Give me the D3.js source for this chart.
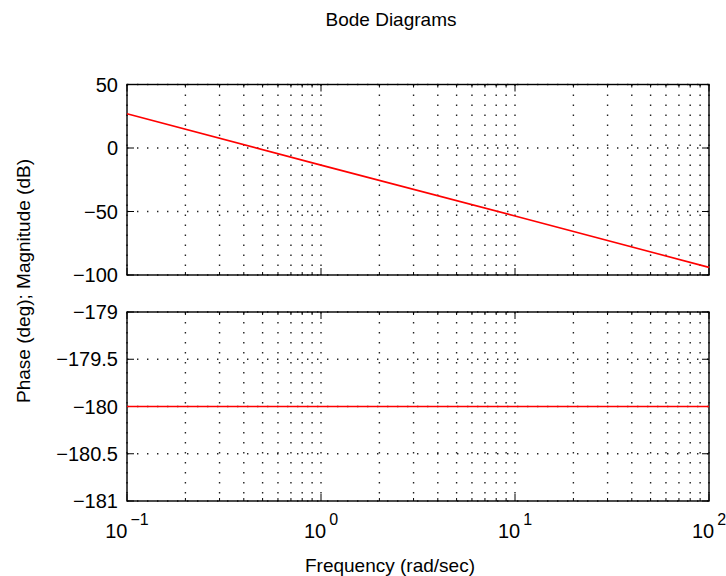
<!DOCTYPE html>
<html>
<head>
<meta charset="utf-8">
<script src="https://cdn.jsdelivr.net/npm/d3@7"></script>
<style>
  body { margin: 0; background: #fff; }
  svg text { font-family: "Liberation Sans", Arial, sans-serif; fill: #000; }
</style>
</head>
<body>
<div id="chart"></div>
<script>
// values
const freq = [0.1, 1, 10, 100]
const magDb = [27, -13.5, -53.5, -94]
const phaseDeg = [-180, -180, -180, -180]
const magTicks = [50, 0, -50, -100]
const phaseTicks = [-179, -179.5, -180, -180.5, -181]
const freqDecades = [-1, 0, 1, 2]

const width = 726
const height = 576
const left = 127, right = 709

const svg = d3.select("#chart").append("svg")
    .attr("width", width)
    .attr("height", height)

const x = d3.scaleLog().domain([0.1, 100]).range([left, right])

const panels = [
    { top: 84.5, bottom: 275, domain: [-100, 50], ticks: magTicks, values: magDb, fmt: d3.format("d") },
    { top: 312, bottom: 501, domain: [-181, -179], ticks: phaseTicks, values: phaseDeg, fmt: d => d3.format("")(d) }
]

panels.forEach((p, pi) => {
    const y = d3.scaleLinear().domain(p.domain).range([p.bottom, p.top])
    const g = svg.append("g")

    // vertical grid, every log tick
    g.selectAll(".vgrid")
        .data(x.ticks())
        .enter()
        .append("line")
        .attr("x1", d => x(d)).attr("x2", d => x(d))
        .attr("y1", p.top).attr("y2", p.bottom)
        .attr("stroke", "#222")
        .attr("stroke-width", 1.4)
        .attr("stroke-dasharray", "1.4 8.6")

    // horizontal grid at major ticks
    g.selectAll(".hgrid")
        .data(p.ticks)
        .enter()
        .append("line")
        .attr("x1", left).attr("x2", right)
        .attr("y1", d => y(d)).attr("y2", d => y(d))
        .attr("stroke", "#222")
        .attr("stroke-width", 1.4)
        .attr("stroke-dasharray", "1.4 8.6")

    // tick marks, inward on all four sides
    const majors = freqDecades.map(e => Math.pow(10, e))
    x.ticks().forEach(t => {
        const len = majors.some(m => Math.abs(m - t) < 1e-9) ? 7 : 3
        g.append("line").attr("x1", x(t)).attr("x2", x(t)).attr("y1", p.bottom).attr("y2", p.bottom - len).attr("stroke", "#000")
        g.append("line").attr("x1", x(t)).attr("x2", x(t)).attr("y1", p.top).attr("y2", p.top + len).attr("stroke", "#000")
    })
    p.ticks.forEach(t => {
        g.append("line").attr("x1", left).attr("x2", left + 7).attr("y1", y(t)).attr("y2", y(t)).attr("stroke", "#000")
        g.append("line").attr("x1", right).attr("x2", right - 7).attr("y1", y(t)).attr("y2", y(t)).attr("stroke", "#000")
    })

    // border
    g.append("rect")
        .attr("x", left).attr("y", p.top)
        .attr("width", right - left).attr("height", p.bottom - p.top)
        .attr("fill", "none")
        .attr("stroke", "#000")
        .attr("stroke-width", 1.4)

    // y tick labels
    g.selectAll(".ylab")
        .data(p.ticks)
        .enter()
        .append("text")
        .attr("x", left - 9)
        .attr("y", d => y(d))
        .attr("dy", "0.36em")
        .attr("text-anchor", "end")
        .style("font-size", "20px")
        .text(d => p.fmt(d).replace("-", "\u2212"))

    // data line
    const line = d3.line()
        .x((d, i) => x(freq[i]))
        .y(d => y(d))
    g.append("path")
        .datum(p.values)
        .attr("d", line)
        .attr("fill", "none")
        .attr("stroke", "#ff0000")
        .attr("stroke-width", 1.6)
})

// x tick labels 10^n
const xl = svg.selectAll(".xlab")
    .data(freqDecades)
    .enter()
    .append("text")
    .attr("x", d => x(Math.pow(10, d)))
    .attr("y", 538)
    .attr("text-anchor", "middle")
    .style("font-size", "20px")
xl.append("tspan").text("10")
xl.append("tspan")
    .attr("dx", 3)
    .attr("dy", -13)
    .style("font-size", "16px")
    .text(d => String(d).replace("-", "\u2212"))

// title and axis labels
svg.append("text")
    .attr("x", 391).attr("y", 26)
    .attr("text-anchor", "middle")
    .style("font-size", "19px")
    .text("Bode Diagrams")

svg.append("text")
    .attr("x", 390).attr("y", 572)
    .attr("text-anchor", "middle")
    .style("font-size", "19px")
    .text("Frequency (rad/sec)")

svg.append("text")
    .attr("transform", "translate(30,281) rotate(-90)")
    .attr("text-anchor", "middle")
    .style("font-size", "19px")
    .text("Phase (deg); Magnitude (dB)")
</script>
</body>
</html>
